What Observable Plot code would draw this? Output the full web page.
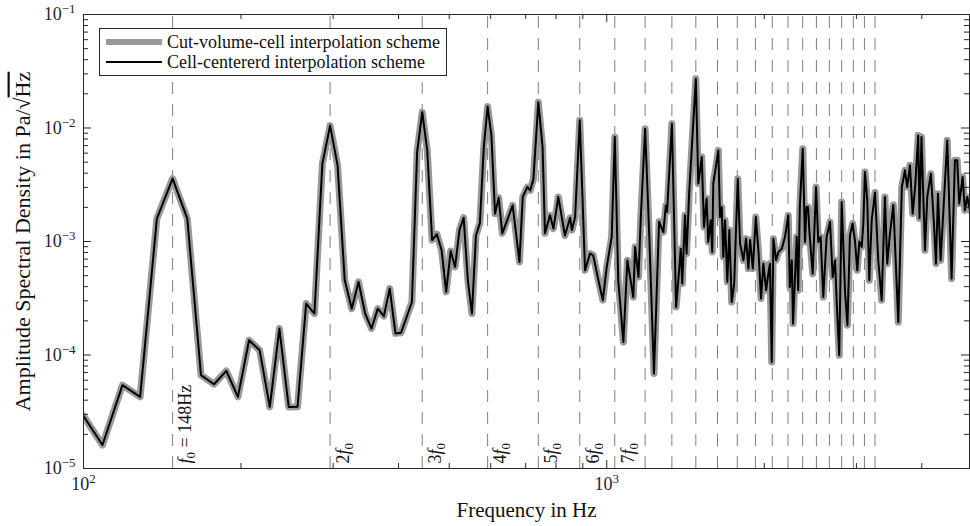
<!DOCTYPE html>
<html>
<head>
<meta charset="utf-8">
<script src="https://cdn.jsdelivr.net/npm/d3@7"></script>
<script src="https://cdn.jsdelivr.net/npm/@observablehq/plot@0.6"></script>
<style>
  html, body { margin: 0; padding: 0; background: #fff; }
  #wrap { position: relative; width: 970px; height: 526px; font-family: "Liberation Serif", "DejaVu Serif", serif; }
  #legend { position: absolute; left: 99px; top: 28px; width: 348px; height: 48px; box-sizing: border-box;
            border: 1px solid #262626; background: #fff; font-size: 18px; color: #111; }
  .lrow { position: absolute; left: 0; height: 20px; width: 100%; }
  .lsw { position: absolute; left: 6px; width: 56px; top: 50%; }
  .ltx { position: absolute; left: 67px; top: 50%; transform: translateY(-52%); white-space: nowrap; line-height: 1; }
</style>
</head>
<body>
<div id="wrap"></div>
<script>
// ---------------- data ----------------
const seriesNames = ["Cut-volume-cell interpolation scheme", "Cell-centererd interpolation scheme"];

const freqHz = [
  100, 108.7, 118.7, 128.3, 138.1, 148, 157.9, 167.7, 177.6, 187.5, 197.3, 207.2, 217.1, 227, 236.8, 246.7,
  256.5, 266.4, 276.3, 286.1, 296, 305.9, 315.7, 325.6, 335.5, 345.3, 355.2, 365.1, 375, 384.8, 394.7, 404.5,
  424.3, 434.1, 444, 453.9, 463.7, 473.6, 483.5, 493.3, 503.2, 513.1, 523, 532.8, 542.7, 552.5, 562.4, 572.3,
  582.1, 592, 601.9, 611.7, 621.6, 631.5, 661, 681, 691, 705, 714, 724, 740, 754, 762, 779, 791, 808, 832,
  851, 858, 870, 888, 909, 929, 942, 964, 983, 1000, 1022, 1036, 1052, 1076, 1095, 1124, 1133, 1150, 1161,
  1184, 1206, 1231, 1259, 1283, 1297, 1304, 1332, 1357, 1367, 1385, 1394, 1411, 1421, 1437, 1480, 1496, 1519,
  1534, 1552, 1563, 1580, 1591, 1598, 1634, 1646, 1659, 1670, 1683, 1700, 1715, 1733, 1752, 1780, 1798, 1825,
  1846, 1865, 1879, 1902, 1927, 1950, 1972, 1992, 2017, 2036, 2051, 2067, 2082, 2107, 2129, 2161, 2191, 2223,
  2238, 2258, 2270, 2307, 2322, 2339, 2369, 2393, 2408, 2425, 2441, 2475, 2512, 2537, 2563, 2593, 2632, 2671,
  2703, 2731, 2752, 2782, 2812, 2855, 2884, 2916, 2951, 2982, 3012, 3039, 3071, 3093, 3115, 3147, 3175, 3209,
  3256, 3303, 3353, 3401, 3436, 3478, 3530, 3607, 3664, 3715, 3752, 3797, 3843, 3885, 3938, 3960, 3995, 4057,
  4098, 4163, 4220, 4258, 4296, 4346, 4396, 4475, 4561, 4628, 4675, 4717, 4788, 4836, 4886, 4945
];

// Cut-volume-cell interpolation scheme (Pa/sqrt(Hz))
const cvcAsd = [
  2.9e-5, 1.61e-5, 5.42e-5, 4.28e-5, 1.59e-3, 3.58e-3, 1.59e-3, 6.64e-5, 5.53e-5, 7.24e-5, 4.28e-5, 1.35e-4, 1.10e-4, 3.49e-5, 1.71e-4, 3.49e-5,
  3.5e-5, 2.84e-4, 2.32e-4, 4.85e-3, 1.05e-2, 4.69e-3, 4.55e-4, 2.56e-4, 4.41e-4, 2.32e-4, 1.71e-4, 2.56e-4, 2.20e-4, 3.85e-4, 1.55e-4, 1.57e-4,
  2.93e-4, 6.14e-3, 1.38e-2, 6.35e-3, 1.03e-3, 1.16e-3, 8.37e-4, 3.6e-4, 8.24e-4, 5.97e-4, 1.26e-3, 1.62e-3, 4.55e-4, 2.32e-4, 1.13e-3, 1.46e-3,
  6.79e-3, 1.55e-2, 8.61e-3, 1.76e-3, 2.43e-3, 1.18e-3, 2.08e-3, 6.61e-4, 2.47e-3, 3.02e-3, 2.82e-3, 3.51e-3, 1.69e-2, 6.79e-3, 1.18e-3, 1.70e-3, 1.30e-3, 2.47e-3, 1.13e-3,
  1.62e-3, 1.26e-3, 1.64e-3, 1.17e-2, 5.57e-4, 7.82e-4, 7.57e-4, 4.55e-4, 3.04e-4, 5.97e-4, 1.10e-3, 8.32e-3, 4.55e-4, 1.30e-4, 6.84e-4, 3.24e-4, 8.95e-4, 4.86e-4, 1.54e-3,
  9.86e-3, 1.10e-3, 6.87e-5, 1.49e-3, 1.21e-3, 2.08e-3, 1.82e-3, 1.09e-2, 2.65e-4, 3.97e-4, 8.65e-4, 4.26e-4, 1.70e-3, 7.82e-4, 2.64e-3, 2.72e-2, 3.24e-3, 5.55e-3,
  1.34e-3, 2.39e-3, 9.93e-4, 1.54e-3, 8.09e-4, 3.24e-3, 6.35e-3, 1.64e-3, 2.01e-3, 7.30e-4, 1.54e-3, 4.41e-4, 1.26e-3, 2.93e-4, 4.26e-4, 3.58e-3, 9.57e-4, 6.84e-4,
  1.06e-3, 5.77e-4, 1.03e-3, 5.77e-4, 1.64e-3, 8.09e-4, 3.14e-4, 6.38e-4, 3.72e-4, 5.21e-4, 6.38e-4, 8.69e-5, 1.06e-3, 6.84e-4, 8.09e-4, 8.65e-4, 1.10e-3, 1.70e-3,
  3.97e-4, 6.84e-4, 1.89e-4, 1.10e-3, 3.72e-4, 2.01e-3, 6.58e-3, 9.9e-4, 2.01e-3, 2.01e-3, 1.18e-3, 5.21e-4, 3.02e-3, 9.9e-4, 1.10e-3, 3.24e-4, 1.10e-3, 1.49e-3,
  4.86e-4, 6.84e-4, 2.84e-4, 9.95e-5, 2.23e-3, 3.48e-4, 1.83e-4, 1.13e-3, 1.44e-3, 1.0e-3, 5.57e-4, 1.0e-3, 8.95e-4, 1.44e-3, 4.09e-3, 2.31e-3, 4.55e-4, 1.54e-3,
  2.7e-3, 6.84e-4, 3.04e-4, 2.47e-3, 6.38e-4, 1.18e-3, 2.1e-3, 1.95e-4, 3.02e-3, 4.24e-3, 3.02e-3, 4.69e-3, 1.76e-3, 3.02e-3, 8.61e-3, 1.6e-3, 8.32e-3, 8.37e-4,
  2.47e-3, 3.96e-3, 1.44e-3, 6.38e-4, 2.64e-3, 6.84e-4, 1.76e-3, 7.78e-3, 4.71e-4, 5.19e-3, 5.19e-3, 2.16e-3, 3.70e-3, 1.88e-3, 2.47e-3, 1.88e-3
];

// Cell-centered interpolation scheme: coincides with the curve above at this resolution
const ccAsd = cvcAsd.slice();

// harmonic lines n * f0 (f0 = 148 Hz)
const harmonicHz = [148, 296, 444, 592, 740, 888, 1036, 1184, 1332, 1480, 1628, 1776, 1924, 2072, 2220,
                    2368, 2516, 2664, 2812, 2960, 3108, 3256];
const harmonicLabels = ["f0 = 148Hz", "2f0", "3f0", "4f0", "5f0", "6f0", "7f0"];

// axis ticks
const xMajorTicks = [100, 1000];
const xMinorTicks = [200, 300, 400, 500, 600, 700, 800, 900, 2000, 3000, 4000];
const yMajorTicks = [1e-5, 1e-4, 1e-3, 1e-2, 1e-1];
const yMinorTicks = [2e-5, 3e-5, 4e-5, 5e-5, 6e-5, 7e-5, 8e-5, 9e-5,
                     2e-4, 3e-4, 4e-4, 5e-4, 6e-4, 7e-4, 8e-4, 9e-4,
                     2e-3, 3e-3, 4e-3, 5e-3, 6e-3, 7e-3, 8e-3, 9e-3,
                     2e-2, 3e-2, 4e-2, 5e-2, 6e-2, 7e-2, 8e-2, 9e-2];
const xLabel = "Frequency in Hz";
const yLabel = "Amplitude Spectral Density in Pa/√Hz";

// ---------------- build ----------------
const rows = freqHz.map((f, i) => ({f, cvc: cvcAsd[i], cc: ccAsd[i]}));
const labelRows = harmonicLabels.map((t, i) => ({f: harmonicHz[i], t}));

const W = 970, H = 526, mL = 83, mR = 1, mT = 14, mB = 58;
const fw = W - mL - mR, fh = H - mT - mB;
const axisColor = "#262626";

const chart = Plot.plot({
  width: W, height: H,
  marginLeft: mL, marginRight: mR, marginTop: mT, marginBottom: mB,
  style: {fontFamily: "'Liberation Serif', serif", fontSize: "18px", background: "#fff", color: axisColor, overflow: "visible"},
  x: {type: "log", domain: [100, 4935]},
  y: {type: "log", domain: [1e-5, 1e-1]},
  marks: [
    Plot.ruleX(harmonicHz, {x: d => d, y1: 1e-5, y2: 1e-1, stroke: "#7f7f7f", strokeWidth: 1, strokeDasharray: "12,10"}),
    Plot.line(rows, {x: "f", y: "cvc", stroke: "#999999", strokeWidth: 7, strokeLinejoin: "round", strokeLinecap: "round", clip: true}),
    Plot.line(rows, {x: "f", y: "cc", stroke: "#000000", strokeWidth: 2, strokeLinejoin: "round", clip: true}),
    Plot.text(labelRows, {x: "f", text: "t", frameAnchor: "bottom", rotate: -90, textAnchor: "start", lineAnchor: "top",
                          dx: 6, dy: -5, fontSize: 18, fill: "#111"}),
    // inward ticks, all four sides
    Plot.tickX(xMajorTicks, {x: d => d, insetTop: fh - 8, stroke: axisColor}),
    Plot.tickX(xMinorTicks, {x: d => d, insetTop: fh - 5, stroke: axisColor}),
    Plot.tickX(xMajorTicks, {x: d => d, insetBottom: fh - 8, stroke: axisColor}),
    Plot.tickX(xMinorTicks, {x: d => d, insetBottom: fh - 5, stroke: axisColor}),
    Plot.tickY(yMajorTicks, {y: d => d, insetRight: fw - 8, stroke: axisColor}),
    Plot.tickY(yMinorTicks, {y: d => d, insetRight: fw - 5, stroke: axisColor}),
    Plot.tickY(yMajorTicks, {y: d => d, insetLeft: fw - 8, stroke: axisColor}),
    Plot.tickY(yMinorTicks, {y: d => d, insetLeft: fw - 5, stroke: axisColor}),
    Plot.frame({stroke: axisColor, strokeWidth: 1}),
    Plot.axisX({ticks: xMajorTicks, tickSize: 0, tickPadding: 9, label: null,
                tickFormat: d => "10^" + Math.round(Math.log10(d))}),
    Plot.axisY({ticks: yMajorTicks, tickSize: 0, tickPadding: 8, label: null,
                tickFormat: d => "10^" + Math.round(Math.log10(d))}),
    Plot.text([xLabel], {frameAnchor: "bottom", dy: 42, lineAnchor: "middle", fontSize: 21, fill: "#111"}),
    Plot.text([yLabel], {frameAnchor: "left", rotate: -90, dx: -61, textAnchor: "middle", lineAnchor: "middle", fontSize: 22, fill: "#111"})
  ]
});

document.getElementById("wrap").appendChild(chart);

// ---------------- typographic post-processing ----------------
const NS = "http://www.w3.org/2000/svg";
function tspan(parent, txt, attrs) {
  const t = document.createElementNS(NS, "tspan");
  t.textContent = txt;
  for (const k in attrs) t.setAttribute(k, attrs[k]);
  parent.appendChild(t);
  return t;
}
const svg = d3.select(chart);
svg.selectAll("text").each(function() {
  const s = this.textContent;
  let m;
  if ((m = s.match(/^10\^(.+)$/))) {
    this.textContent = "10";
    this.setAttribute("font-size", "18px");
    this.style.fontSize = "18px";
    this.setAttribute("fill", "#262626");
    tspan(this, m[1].replace("-", "−"), {"font-size": "13px", dy: "-7", style: "font-size:13px"});
  } else if ((m = s.match(/^(\d*)f0(.*)$/))) {
    this.textContent = "";
    if (m[1]) tspan(this, m[1], {});
    tspan(this, "f", {"font-style": "italic"});
    tspan(this, "0", {"font-size": "13px", dy: "4"});
    if (m[2]) tspan(this, m[2], {dy: "-4"});
  } else if (s.startsWith("Amplitude")) {
    const k = s.lastIndexOf("Hz");
    this.textContent = s.slice(0, k);
    tspan(this, "Hz", {"text-decoration": "overline"});
  }
});

// ---------------- legend (inside the axes, upper left) ----------------
const legend = d3.select("#wrap").append("div").attr("id", "legend");
const swatches = [{color: "#999999", w: 6}, {color: "#000000", w: 2}];
seriesNames.forEach((name, i) => {
  const row = legend.append("div").attr("class", "lrow").style("top", (i === 0 ? 3 : 23) + "px");
  row.append("div").attr("class", "lsw")
     .style("height", swatches[i].w + "px").style("margin-top", (-swatches[i].w / 2) + "px")
     .style("background", swatches[i].color);
  row.append("div").attr("class", "ltx").text(name);
});
</script>
</body>
</html>
